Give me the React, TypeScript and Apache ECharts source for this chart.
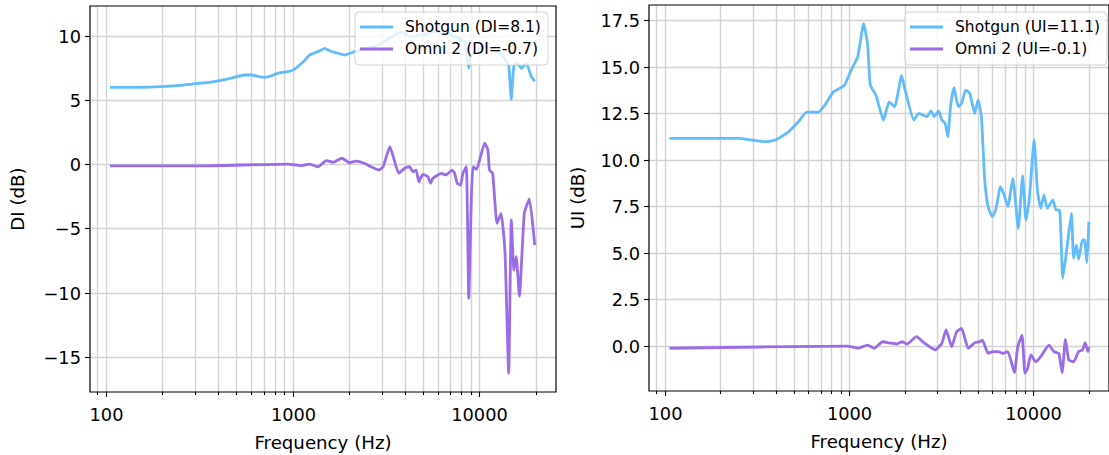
import React, { useEffect, useRef } from "react";
import * as echarts from "echarts";

// ---------- data ----------
const SERIES_NAMES = ["Shotgun", "Omni 2"];
const SERIES_COLORS = ["#61bcfb", "#9a6ce8"];
const DI_VALUES = [8.1, -0.7];
const UI_VALUES = [11.1, -0.1];

const LS_F = [105, 150, 198, 250, 311, 380, 450, 553, 600, 650, 708, 770, 834, 944, 1020, 1090, 1160, 1232, 1365, 1483, 1580, 1678, 1898, 2147, 2500, 2864, 3200, 3518, 3817, 4318, 4886, 5764, 6522, 7379, 8346, 8770, 9060, 9640, 10470, 11590, 12600, 13650, 14350, 14820, 15310, 16090, 16760, 17830, 18970, 19780];
const LS_DI = [6.0, 6.0, 6.05, 6.15, 6.3, 6.45, 6.65, 6.96, 6.96, 6.85, 6.78, 6.9, 7.1, 7.22, 7.4, 7.74, 8.1, 8.52, 8.78, 9.04, 8.85, 8.73, 8.52, 8.78, 9.0, 9.3, 9.7, 10.08, 10.3, 9.95, 10.08, 10.34, 10.2, 9.95, 9.56, 7.5, 8.5, 8.78, 9.17, 9.04, 8.7, 8.26, 7.74, 5.07, 7.74, 7.87, 7.48, 7.87, 6.83, 6.47];

const LO_F = [105, 311, 944, 1112, 1232, 1365, 1514, 1644, 1836, 2015, 2183, 2420, 2624, 2891, 3052, 3314, 3454, 3700, 3978, 4228, 4404, 4583, 4739, 4982, 5298, 5476, 5634, 5990, 6242, 6638, 7125, 7367, 7607, 7932, 8161, 8511, 8770, 9060, 9248, 9655, 10670, 11100, 11320, 11780, 12420, 13060, 13710, 14350, 14820, 15310, 15750, 16380, 17400, 18520, 19780];
const LO_DI = [-0.13, -0.13, 0.02, -0.1, 0.02, -0.2, 0.28, 0.16, 0.47, 0.12, 0.25, 0.08, -0.19, -0.45, -0.19, 1.37, 0.6, -0.7, -0.31, -0.19, -0.58, -0.45, -1.36, -0.78, -0.96, -1.48, -1.09, -0.83, -0.7, -0.83, -0.45, -0.7, -1.48, -1.62, -0.7, -0.19, -10.45, -2.52, -0.19, -0.39, 1.64, 1.12, -0.45, -0.7, -4.6, -3.82, -6.81, -16.3, -4.34, -8.24, -7.2, -10.27, -3.82, -2.7, -6.29];

const RS_F = [106, 180, 253, 286, 351, 398, 469, 531, 589, 680, 739, 819, 889, 946, 1027, 1115, 1200, 1261, 1303, 1397, 1537, 1649, 1767, 1928, 2025, 2245, 2388, 2648, 2781, 2899, 3060, 3187, 3322, 3434, 3560, 3711, 3915, 4078, 4297, 4514, 4805, 5011, 5223, 5445, 5677, 5985, 6235, 6425, 6607, 6886, 7268, 7732, 8285, 8742, 9114, 9494, 10090, 10520, 10960, 11410, 11900, 12750, 13300, 13870, 14440, 15240, 16080, 16540, 17100, 17590, 18480, 18950, 19510, 20000];
const RS_UI = [11.15, 11.15, 11.15, 11.08, 10.97, 11.06, 11.5, 12.04, 12.55, 12.55, 12.94, 13.62, 13.83, 14.01, 14.82, 15.53, 17.32, 16.16, 14.01, 13.47, 12.13, 13.11, 12.85, 14.51, 13.65, 12.13, 12.49, 12.31, 12.62, 12.31, 12.62, 12.13, 11.95, 11.24, 12.94, 13.87, 12.85, 13.03, 13.74, 13.57, 12.49, 13.21, 12.31, 8.91, 7.48, 6.94, 7.3, 7.93, 8.55, 8.2, 7.48, 9.0, 6.32, 9.14, 6.76, 7.84, 11.06, 8.37, 7.39, 8.11, 7.39, 7.84, 7.3, 7.3, 3.64, 5.33, 7.12, 4.71, 5.42, 4.66, 5.69, 5.69, 4.47, 6.67];

const RO_F = [106, 985, 1115, 1261, 1371, 1518, 1683, 1812, 1945, 2067, 2319, 2543, 2933, 3187, 3360, 3604, 3833, 4078, 4426, 4805, 5118, 5289, 5677, 6031, 6425, 6830, 7268, 7890, 8226, 8675, 9000, 9308, 9690, 10310, 10960, 12150, 12920, 13740, 14320, 14930, 15560, 16540, 17590, 18480, 19100, 19770, 20000];
const RO_UI = [-0.12, 0.0, -0.12, 0.05, -0.12, 0.23, 0.15, 0.11, 0.23, 0.11, 0.5, 0.18, -0.21, 0.15, 0.86, -0.04, 0.77, 0.95, -0.12, 0.18, 0.23, 0.32, -0.39, -0.3, -0.3, -0.39, -0.3, -1.43, -0.04, 0.59, -1.46, -1.2, -0.48, -0.84, -0.57, 0.05, -0.3, -0.39, -1.43, 0.36, -0.75, -0.84, -0.3, -0.21, 0.18, -0.3, -0.04];

const X_MAJOR = [100, 1000, 10000];
const X_MINOR = [90, 200, 300, 400, 500, 600, 700, 800, 900, 2000, 3000, 4000, 5000, 6000, 7000, 8000, 9000, 20000];
const LEFT_Y_TICKS = [-15, -10, -5, 0, 5, 10];
const RIGHT_Y_TICKS = [0, 2.5, 5, 7.5, 10, 12.5, 15, 17.5];
const X_TITLE = "Frequency (Hz)";
const LEFT_Y_TITLE = "DI (dB)";
const RIGHT_Y_TITLE = "UI (dB)";

// ---------- layout ----------
const FONT = "DejaVu Sans";
const TICK_FS = 17.8;
const TITLE_FS = 18.2;
const LEGEND_FS = 15.5;
const X_MIN = 1.9143;
const X_MAX = 4.4103;
const LEFT_Y_RANGE = [-17.747, 12.338];
const RIGHT_Y_RANGE = [-2.414, 18.305];

const fmtNeg = (s: string) => s.replace("-", "\u2212");

function makeDecor(idx: number, yMin: number, yTicks: number[], yFmt: (v: number) => string, yTitle: string) {
  return {
    type: "custom",
    xAxisIndex: idx,
    yAxisIndex: idx,
    z: 1,
    clip: false,
    silent: true,
    data: [[X_MIN, yMin]],
    renderItem: (params: any, api: any) => {
      const cs = params.coordSys;
      const left = cs.x, top = cs.y, right = cs.x + cs.width, bottom = cs.y + cs.height;
      const children: any[] = [];
      const gridStroke = "#d3d3d3";
      const vline = (f: number, major: boolean) => {
        const px = Math.round(api.coord([Math.log10(f), yMin])[0]) + 0.5;
        children.push({ type: "line", shape: { x1: px, y1: top, x2: px, y2: bottom }, style: { stroke: gridStroke, lineWidth: 1.4 } });
        children.push({ type: "line", shape: { x1: px, y1: bottom, x2: px, y2: bottom + (major ? 5 : 3) }, style: { stroke: "#000", lineWidth: 1.1 } });
        if (major) {
          children.push({ type: "text", x: px, y: bottom + 22, style: { text: String(f), fill: "#000", fontSize: TICK_FS, fontFamily: FONT, align: "center", verticalAlign: "middle" } });
        }
      };
      X_MINOR.forEach((f) => vline(f, false));
      X_MAJOR.forEach((f) => vline(f, true));
      yTicks.forEach((v) => {
        const py = Math.round(api.coord([X_MIN, v])[1]) + 0.5;
        children.push({ type: "line", shape: { x1: left, y1: py, x2: right, y2: py }, style: { stroke: gridStroke, lineWidth: 1.4 } });
        children.push({ type: "line", shape: { x1: left - 5, y1: py, x2: left, y2: py }, style: { stroke: "#000", lineWidth: 1.1 } });
        children.push({ type: "text", x: left - 9, y: py, style: { text: yFmt(v), fill: "#000", fontSize: TICK_FS, fontFamily: FONT, align: "right", verticalAlign: "middle" } });
      });
      children.push({ type: "rect", shape: { x: left, y: top, width: cs.width, height: cs.height }, style: { fill: "none", stroke: "#000", lineWidth: 1.2 } });
      children.push({ type: "text", x: (left + right) / 2, y: bottom + 50, style: { text: X_TITLE, fill: "#000", fontSize: TITLE_FS, fontFamily: FONT, align: "center", verticalAlign: "middle" } });
      const yt = idx === 0 ? left - 73 : left - 72;
      children.push({ type: "text", x: yt, y: (top + bottom) / 2, rotation: Math.PI / 2, style: { text: yTitle, fill: "#000", fontSize: TITLE_FS, fontFamily: FONT, align: "center", verticalAlign: "middle" } });
      return { type: "group", children };
    },
  };
}

function lineSeries(idx: number, freqs: number[], vals: number[], color: string, name: string) {
  return {
    type: "line",
    name,
    xAxisIndex: idx,
    yAxisIndex: idx,
    data: freqs.map((f, i) => [Math.log10(f), vals[i]]),
    showSymbol: false,
    symbol: "none",
    smooth: 0.15,
    clip: true,
    z: 3,
    lineStyle: { color, width: 2.8, join: "round" },
  };
}

function legend(x: number, y: number, w: number, labels: string[]) {
  const els: any[] = [
    { type: "rect", z: 100, shape: { x, y, width: w, height: 53, r: 4 }, style: { fill: "rgba(255,255,255,0.8)", stroke: "rgba(200,200,200,0.8)", lineWidth: 1 } },
  ];
  labels.forEach((lab, i) => {
    const cy = y + 15 + i * 22;
    els.push({ type: "line", z: 101, shape: { x1: x + 5, y1: cy, x2: x + 38, y2: cy }, style: { stroke: SERIES_COLORS[i], lineWidth: 2.8 } });
    els.push({ type: "text", z: 101, x: x + 50, y: cy, style: { text: lab, fill: "#000", fontSize: LEGEND_FS, fontFamily: FONT, align: "left", verticalAlign: "middle" } });
  });
  return els;
}

export default function App() {
  const ref = useRef<HTMLDivElement>(null);
  useEffect(() => {
    if (!ref.current) return;
    const chart = echarts.init(ref.current, undefined, { renderer: "svg" });
    const axisHidden = { axisLine: { show: false }, axisTick: { show: false }, axisLabel: { show: false }, splitLine: { show: false } };
    const leftLabels = SERIES_NAMES.map((n, i) => `${n} (DI=${DI_VALUES[i].toFixed(1)})`);
    const rightLabels = SERIES_NAMES.map((n, i) => `${n} (UI=${UI_VALUES[i].toFixed(1)})`);
    chart.setOption({
      animation: false,
      backgroundColor: "#ffffff",
      grid: [
        { left: 90, top: 6, width: 466, height: 386, show: false },
        { left: 649, top: 5, width: 466, height: 386, show: false },
      ],
      xAxis: [
        { type: "value", gridIndex: 0, min: X_MIN, max: X_MAX, ...axisHidden },
        { type: "value", gridIndex: 1, min: X_MIN, max: X_MAX, ...axisHidden },
      ],
      yAxis: [
        { type: "value", gridIndex: 0, min: LEFT_Y_RANGE[0], max: LEFT_Y_RANGE[1], ...axisHidden },
        { type: "value", gridIndex: 1, min: RIGHT_Y_RANGE[0], max: RIGHT_Y_RANGE[1], ...axisHidden },
      ],
      series: [
        makeDecor(0, LEFT_Y_RANGE[0], LEFT_Y_TICKS, (v) => fmtNeg(String(v)), LEFT_Y_TITLE),
        makeDecor(1, RIGHT_Y_RANGE[0], RIGHT_Y_TICKS, (v) => v.toFixed(1), RIGHT_Y_TITLE),
        lineSeries(0, LS_F, LS_DI, SERIES_COLORS[0], SERIES_NAMES[0]),
        lineSeries(0, LO_F, LO_DI, SERIES_COLORS[1], SERIES_NAMES[1]),
        lineSeries(1, RS_F, RS_UI, SERIES_COLORS[0], SERIES_NAMES[0]),
        lineSeries(1, RO_F, RO_UI, SERIES_COLORS[1], SERIES_NAMES[1]),
      ],
      graphic: [...legend(355, 12, 193, leftLabels), ...legend(905, 12, 202, rightLabels)],
    });
    return () => chart.dispose();
  }, []);
  return <div ref={ref} style={{ position: "absolute", left: 0, top: 0, width: 1109, height: 455 }} />;
}
